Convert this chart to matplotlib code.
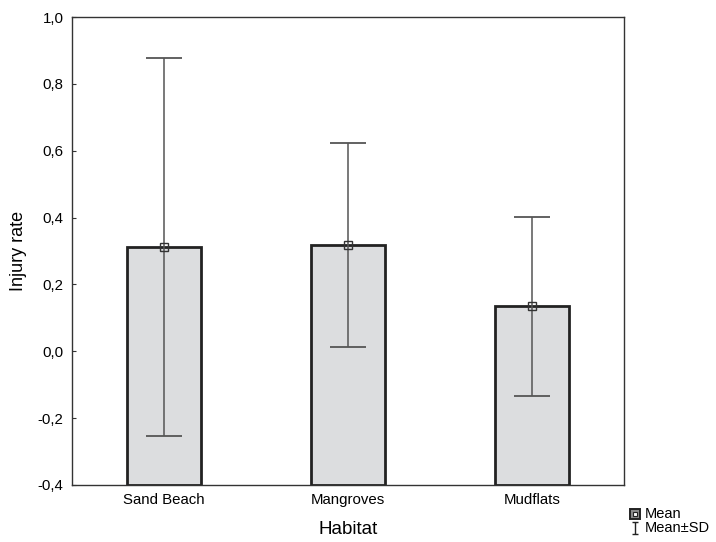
import numpy as np
import matplotlib
matplotlib.use('Agg')
import matplotlib.pyplot as plt
from matplotlib.path import Path
from matplotlib.lines import Line2D

plt.rcParams['font.family'] = ['Liberation Sans', 'DejaVu Sans']

# --- Data ---
habitats = ['Sand Beach', 'Mangroves', 'Mudflats']
means = [0.313, 0.318, 0.134]
sds = [0.565, 0.306, 0.268]
yTicks = [-0.4, -0.2, 0.0, 0.2, 0.4, 0.6, 0.8, 1.0]
yBase = -0.4

barFill = '#dcdddf'
barEdge = '#222222'
errColor = '#555555'

fig = plt.figure(figsize=(7.16, 5.42), dpi=100)
ax = fig.add_axes([0.1006, 0.1052, 0.7709, 0.8634])

x = np.arange(len(habitats))
heights = [m - yBase for m in means]
ax.bar(x, heights, bottom=yBase, width=0.4, color=barFill,
       edgecolor=barEdge, linewidth=2.0, zorder=2)
ax.errorbar(x, means, yerr=sds, fmt='none', ecolor=errColor,
            elinewidth=1.1, capsize=13, capthick=1.3, zorder=3)
ax.plot(x, means, ls='none', marker='s', ms=6, mfc='none',
        mec='#333333', mew=1.0, zorder=4)

ax.set_xlim(-0.5, 2.5)
ax.set_ylim(-0.4, 1.0)
ax.set_yticks(yTicks)
ax.set_yticklabels([f'{v:.1f}'.replace('.', ',') for v in yTicks], fontsize=10.8)
ax.set_xticks(x)
ax.set_xticklabels(habitats, fontsize=10.8)
ax.tick_params(direction='in', length=3, width=0.8, color='#333333')
ax.tick_params(axis='y', pad=6)
ax.tick_params(axis='x', pad=6)
for sp in ax.spines.values():
    sp.set_color('#333333')
    sp.set_linewidth(1.0)

ax.set_xlabel('Habitat', fontsize=13.5, labelpad=10)
ax.set_ylabel('Injury rate', fontsize=13, labelpad=8)

# --- Legend (drawn by hand, rows are tight) ---
iPath = Path([(-0.5, 1), (0.5, 1), (0, 1), (0, -1), (-0.5, -1), (0.5, -1)],
             [Path.MOVETO, Path.LINETO, Path.MOVETO, Path.LINETO,
              Path.MOVETO, Path.LINETO])
legX, textX = 0.887, 0.901
rowY = [0.052, 0.025]
fig.lines.append(Line2D([legX], [rowY[0]], transform=fig.transFigure,
                        ls='none', marker='s', ms=7.0, mfc='#8a8a8a',
                        mec='#222222', mew=1.4))
fig.lines.append(Line2D([legX], [rowY[0]], transform=fig.transFigure,
                        ls='none', marker='s', ms=3.3, mfc='white',
                        mec='#222222', mew=0.8))
fig.lines.append(Line2D([legX], [rowY[1]], transform=fig.transFigure,
                        ls='none', marker=iPath, ms=9.0, mec='#222222',
                        mew=1.0))
fig.text(textX, rowY[0], 'Mean', fontsize=10.5, va='center', ha='left')
fig.text(textX, rowY[1], 'Mean±SD', fontsize=10.5, va='center', ha='left')

plt.savefig('out.png', dpi=100)
plt.close()
